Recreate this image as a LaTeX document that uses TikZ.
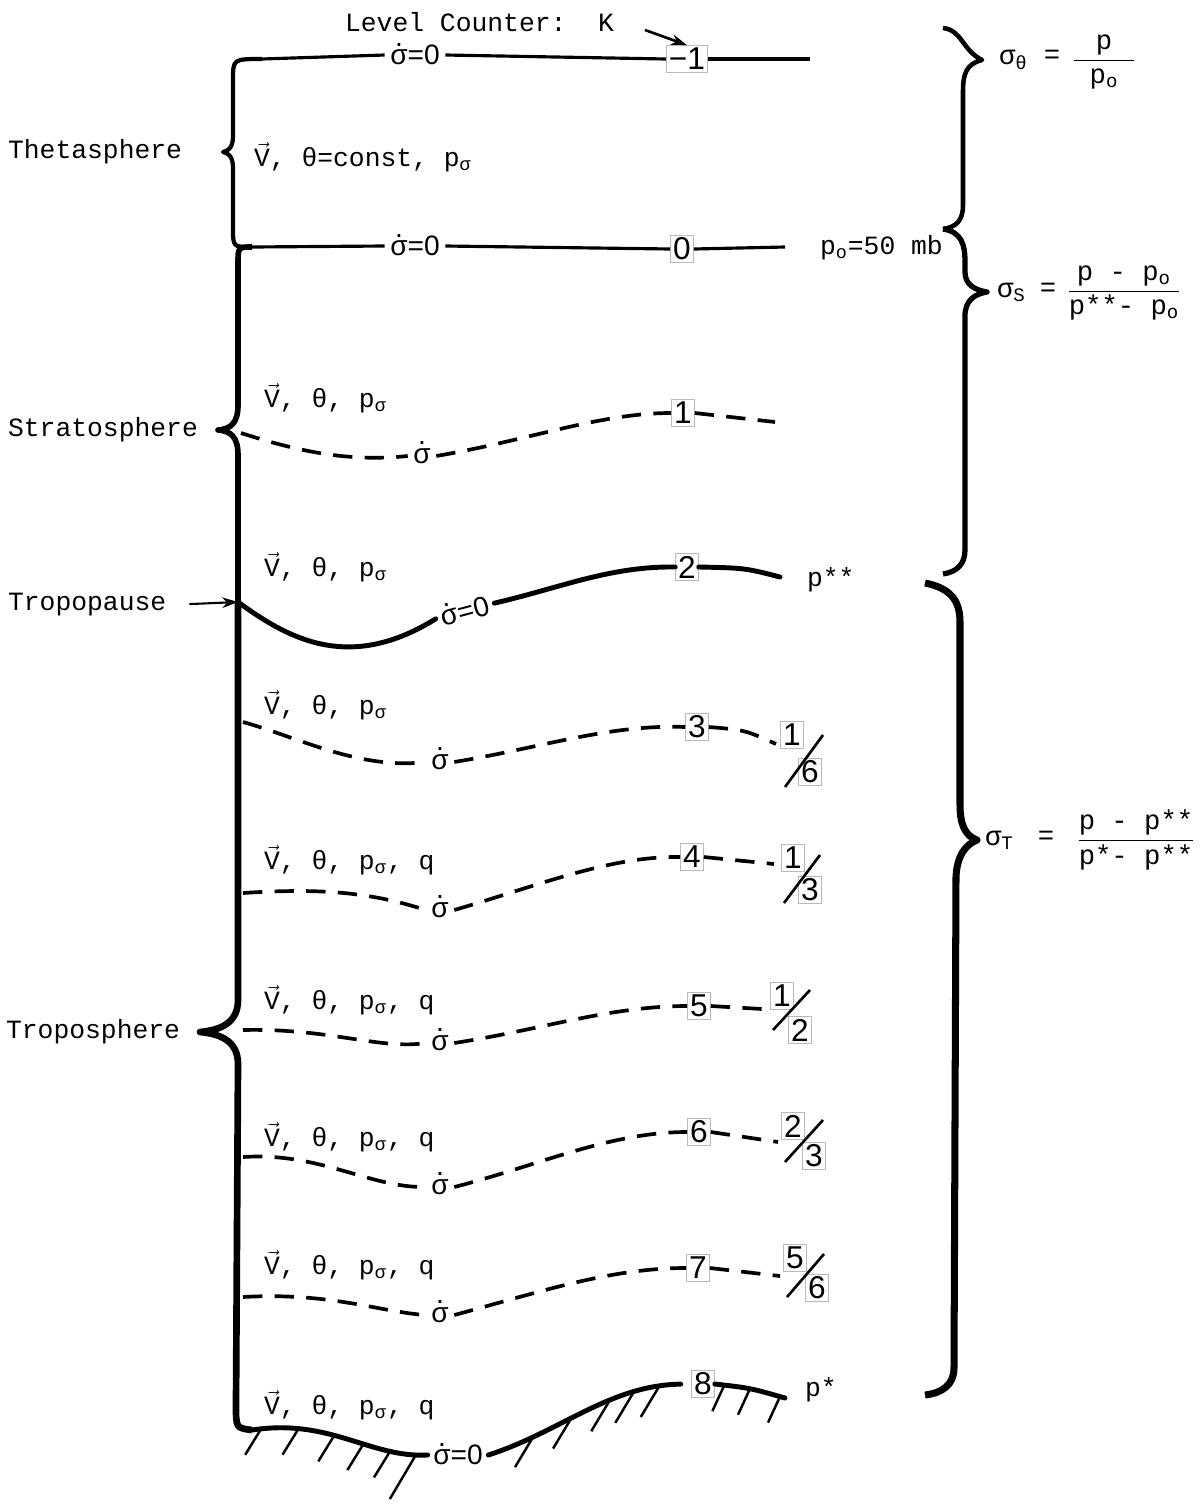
\documentclass[tikz,border=0pt]{standalone}
\usepackage{fontspec}
\setmainfont{Liberation Mono}
\newfontfamily\sfn{Liberation Sans}
\usetikzlibrary{arrows.meta}
\newcommand{\sdot}{{\sfn\ooalign{σ\cr\hidewidth\raisebox{0.66em}{.}\hidewidth\cr}}}
\newcommand{\Vv}{\ensuremath{\vec{\hbox{V}}}}
\newcommand{\psig}{p\textsubscript{\sfn σ}}
\tikzset{
  lbl/.style={font=\fontsize{15}{18}\selectfont, inner sep=1pt},
  eqn/.style={font=\fontsize{15.5}{19}\selectfont, inner sep=1pt},
  sdl/.style={font=\sfn\fontsize{16}{19}\selectfont, inner sep=3pt},
  numbox/.style={draw=gray!55, line width=0.4pt, font=\sfn\fontsize{18}{20}\selectfont, inner sep=1.5pt},
  thinlvl/.style={line width=1.8pt},
  thicklvl/.style={line width=2.8pt, line cap=round},
  dashlvl/.style={line width=2.1pt, dash pattern=on 11pt off 7pt},
  slashl/.style={line width=1.5pt},
  thbrace/.style={line width=2.4pt, line join=round},
  sbrace/.style={line width=3.2pt, line join=round},
  tbrace/.style={line width=3.8pt, line join=round},
  rbrace/.style={line width=3pt, line join=round},
  hatch/.style={line width=1.4pt},
  arr/.style={line width=1.2pt, -{Stealth[length=9pt,width=6pt]}}
}
\begin{document}
\begin{tikzpicture}[x=0.02cm,y=-0.02cm]
\useasboundingbox (0,0) rectangle (1203,1505);

% ---------- level counter ----------
\node[lbl,anchor=west] (lc) at (343,22) {Level Counter:\ \ K};
\node[numbox] (km1) at (687,59) {−1};
\coordinate (lcs) at (645,30);
\draw[arr, line width=1.5pt] (lcs) -- (km1.north);

% ---------- level -1 ----------
\coordinate (tl0) at (262,59);
\coordinate (tl1) at (810,59);
\node[sdl] (sdm1) at (415,55) {\sdot=0};
\draw[thinlvl] (tl0) -- (sdm1.west);
\draw[thinlvl] (sdm1.east) -- (km1.west);
\draw[thinlvl] (km1.east) -- (tl1);

% thetasphere brace
\node[lbl,anchor=west] (theta) at (6,152) {Thetasphere};
\draw[thbrace] (tl0) .. controls (233,59) .. (233,80) -- (233,136)
  .. controls (233,148) and (228,151) .. (223,152)
  .. controls (228,153) and (233,156) .. (233,168) -- (233,228)
  .. controls (233,247) .. (252,247) coordinate (l0a);
\node[lbl,anchor=west] (vth) at (252,157) {\Vv, θ=const, \psig};

% ---------- level 0 ----------
\node[sdl] (sd0) at (415,246) {\sdot=0};
\node[numbox] (k0) at (682,249) {0};
\coordinate (l0b) at (785,247);
\draw[thinlvl] (l0a) -- (sd0.west);
\draw[thinlvl] (sd0.east) -- (k0.west);
\draw[thinlvl] (k0.east) -- (l0b);
\node[lbl,anchor=west] (p0) at (818,248) {p\textsubscript{o}=50 mb};

% stratosphere brace
\coordinate (tp) at (238,602);
\node[lbl,anchor=west] (strat) at (6,430) {Stratosphere};
\draw[sbrace] (l0a) .. controls (238,247) .. (238,264) -- (238,405)
  .. controls (238,424) and (230,429) .. (218,430)
  .. controls (230,431) and (238,436) .. (238,455) -- (tp);

% ---------- level 1 (stratosphere) ----------
\node[lbl,anchor=west] (v1) at (262,398) {\Vv, θ, \psig};
\coordinate (s1a) at (241,433);
\node[sdl] (sd1) at (422,456) {\sdot};
\node[numbox] (k1) at (683,413) {1};
\coordinate (s1e) at (775,422);
\draw[dashlvl] (s1a) .. controls (300,452) and (350,462) .. (sd1.west);
\draw[dashlvl] (sd1.east) .. controls (530,440) and (600,413) .. (k1.west);
\draw[dashlvl] (k1.east) -- (s1e);

% ---------- level 2 (tropopause) ----------
\node[lbl,anchor=west] (v2) at (262,567) {\Vv, θ, \psig};
\node[lbl,anchor=west] (tropo) at (6,605) {Tropopause};
\draw[arr, shorten <=12pt] (tropo.east) -- (tp);
\node[sdl, rotate=15] (sd2) at (465,611) {\sdot=0};
\node[numbox] (k2) at (687,567) {2};
\coordinate (s2e) at (780,577);
\draw[thicklvl] (tp) .. controls (290,640) and (350,672) .. (sd2.west);
\draw[thicklvl] (sd2.east) .. controls (560,588) and (610,566) .. (k2.west);
\draw[thicklvl] (k2.east) .. controls (745,568) .. (s2e);
\node[lbl,anchor=west] (pss) at (805,580) {p**};

% troposphere brace
\node[lbl,anchor=west] (tropos) at (4,1032) {Troposphere};
\coordinate (g0) at (252,1430);
\draw[tbrace] (tp) -- (238,1000) .. controls (238,1022) and (222,1030) .. (200,1032)
  .. controls (222,1034) and (238,1042) .. (238,1064) -- (236,1405)
  .. controls (236,1428) .. (g0);

% ---------- level 3 ----------
\node[lbl,anchor=west] (v3) at (262,705) {\Vv, θ, \psig};
\coordinate (s3a) at (243,722);
\node[sdl] (sd3) at (440,762) {\sdot};
\node[numbox] (k3) at (697,727) {3};
\coordinate (s3e) at (776,744);
\draw[dashlvl] (s3a) .. controls (300,738) and (360,770) .. (sd3.west);
\draw[dashlvl] (sd3.east) .. controls (540,748) and (610,724) .. (k3.west);
\draw[dashlvl] (k3.east) .. controls (745,730) .. (s3e);
\node[numbox] (f3n) at (792,735) {1};
\node[numbox] (f3d) at (810,772) {6};
\draw[slashl] (785,787) -- (823,735);

% ---------- level 4 ----------
\node[lbl,anchor=west] (v4) at (262,860) {\Vv, θ, \psig, q};
\coordinate (s4a) at (243,893);
\node[sdl] (sd4) at (440,910) {\sdot};
\node[numbox] (k4) at (692,857) {4};
\coordinate (s4e) at (774,864);
\draw[dashlvl] (s4a) .. controls (320,888) and (370,892) .. (sd4.west);
\draw[dashlvl] (sd4.east) .. controls (540,885) and (610,856) .. (k4.west);
\draw[dashlvl] (k4.east) -- (s4e);
\node[numbox] (f4n) at (793,858) {1};
\node[numbox] (f4d) at (810,890) {3};
\draw[slashl] (784,903) -- (820,855);

% ---------- level 5 ----------
\node[lbl,anchor=west] (v5) at (262,1000) {\Vv, θ, \psig, q};
\coordinate (s5a) at (243,1030);
\node[sdl] (sd5) at (440,1043) {\sdot};
\node[numbox] (k5) at (699,1006) {5};
\coordinate (s5e) at (762,1009);
\draw[dashlvl] (s5a) .. controls (330,1028) and (380,1050) .. (sd5.west);
\draw[dashlvl] (sd5.east) .. controls (540,1030) and (610,1006) .. (k5.west);
\draw[dashlvl] (k5.east) -- (s5e);
\node[numbox] (f5n) at (782,996) {1};
\node[numbox] (f5d) at (800,1030) {2};
\draw[slashl] (773,1030) -- (810,990);

% ---------- level 6 ----------
\node[lbl,anchor=west] (v6) at (262,1137) {\Vv, θ, \psig, q};
\coordinate (s6a) at (243,1157);
\node[sdl] (sd6) at (440,1187) {\sdot};
\node[numbox] (k6) at (699,1132) {6};
\coordinate (s6e) at (778,1142);
\draw[dashlvl] (s6a) .. controls (320,1152) and (370,1188) .. (sd6.west);
\draw[dashlvl] (sd6.east) .. controls (540,1165) and (610,1132) .. (k6.west);
\draw[dashlvl] (k6.east) -- (s6e);
\node[numbox] (f6n) at (793,1126) {2};
\node[numbox] (f6d) at (814,1156) {3};
\draw[slashl] (785,1162) -- (823,1120);

% ---------- level 7 ----------
\node[lbl,anchor=west] (v7) at (262,1265) {\Vv, θ, \psig, q};
\coordinate (s7a) at (243,1297);
\node[sdl] (sd7) at (440,1315) {\sdot};
\node[numbox] (k7) at (698,1268) {7};
\coordinate (s7e) at (780,1276);
\draw[dashlvl] (s7a) .. controls (330,1292) and (380,1312) .. (sd7.west);
\draw[dashlvl] (sd7.east) .. controls (540,1292) and (610,1268) .. (k7.west);
\draw[dashlvl] (k7.east) -- (s7e);
\node[numbox] (f7n) at (795,1258) {5};
\node[numbox] (f7d) at (817,1288) {6};
\draw[slashl] (787,1297) -- (824,1254);

% ---------- level 8 (ground) ----------
\node[lbl,anchor=west] (v8) at (262,1405) {\Vv, θ, \psig, q};
\node[sdl] (sd8) at (458,1455) {\sdot=0};
\node[numbox] (k8) at (703,1384) {8};
\coordinate (s8e) at (785,1398);
\draw[thicklvl] (g0) .. controls (330,1418) and (370,1458) .. (sd8.west)
  coordinate[pos=0.04] (h1) coordinate[pos=0.22] (h2) coordinate[pos=0.42] (h3)
  coordinate[pos=0.60] (h4) coordinate[pos=0.77] (h5) coordinate[pos=0.93] (h6);
\draw[thicklvl, shorten >=6pt] (sd8.east) .. controls (560,1432) and (610,1385) .. (k8.west)
  coordinate[pos=0.22] (h7) coordinate[pos=0.42] (h8) coordinate[pos=0.62] (h9)
  coordinate[pos=0.74] (h10) coordinate[pos=0.86] (h11);
\draw[thicklvl] (k8.east) .. controls (750,1388) .. (s8e)
  coordinate[pos=0.1] (h12) coordinate[pos=0.5] (h13) coordinate[pos=0.95] (h14);
\foreach \h in {h1,h2,h3,h4,h5}
  \draw[hatch] (\h) -- ++(-16,26);
\draw[hatch] (h6) -- ++(-26,44);
\foreach \h in {h7,h8,h9,h10,h11}
  \draw[hatch] (\h) -- ++(-18,30);
\foreach \h in {h12,h13,h14}
  \draw[hatch] (\h) -- ++(-12,26);
\node[lbl,anchor=west] (pst) at (803,1390) {p*};

% ---------- right braces and sigma definitions ----------
\draw[rbrace, line width=2.6pt] (943,28) .. controls (962,30) and (962,50) .. (982,60)
  .. controls (966,64) and (963,74) .. (963,92) -- (963,205)
  .. controls (963,221) and (956,227) .. (943,229);
\node[eqn,anchor=west] (sth) at (997,60) {σ\textsubscript{θ}};
\node[eqn] (eq1) at (1052,57) {=};
\node[eqn] (fr1) at (1104,62) {$\displaystyle\frac{\hbox to 34pt{\hfil p\hfil}}{\hbox{p\textsubscript{o}}}$};

\draw[rbrace] (943,229) .. controls (962,232) and (965,245) .. (965,262) -- (965,272)
  .. controls (965,285) and (975,290) .. (987,292)
  .. controls (975,294) and (965,300) .. (965,316) -- (965,550)
  .. controls (965,565) and (956,572) .. (943,574);
\node[eqn,anchor=west] (ss) at (995,292) {σ\textsubscript{S}};
\node[eqn] (eq2) at (1048,290) {=};
\node[eqn] (fr2) at (1124,293) {$\displaystyle\frac{\hbox{p - p\textsubscript{o}}}{\hbox{p**- p\textsubscript{o}}}$};

\draw[rbrace, line width=4pt] (925,583) .. controls (950,588) and (960,600) .. (960,622) -- (960,805)
  .. controls (960,826) and (966,836) .. (977,840)
  .. controls (965,845) and (957,856) .. (956,877) -- (954,1368)
  .. controls (954,1385) and (942,1393) .. (925,1395);
\node[eqn,anchor=west] (stt) at (983,840) {σ\textsubscript{T}};
\node[eqn] (eq3) at (1046,838) {=};
\node[eqn] (fr3) at (1136,840) {$\displaystyle\frac{\hbox{p - p**}}{\hbox{p*- p**}}$};
\end{tikzpicture}
\end{document}
